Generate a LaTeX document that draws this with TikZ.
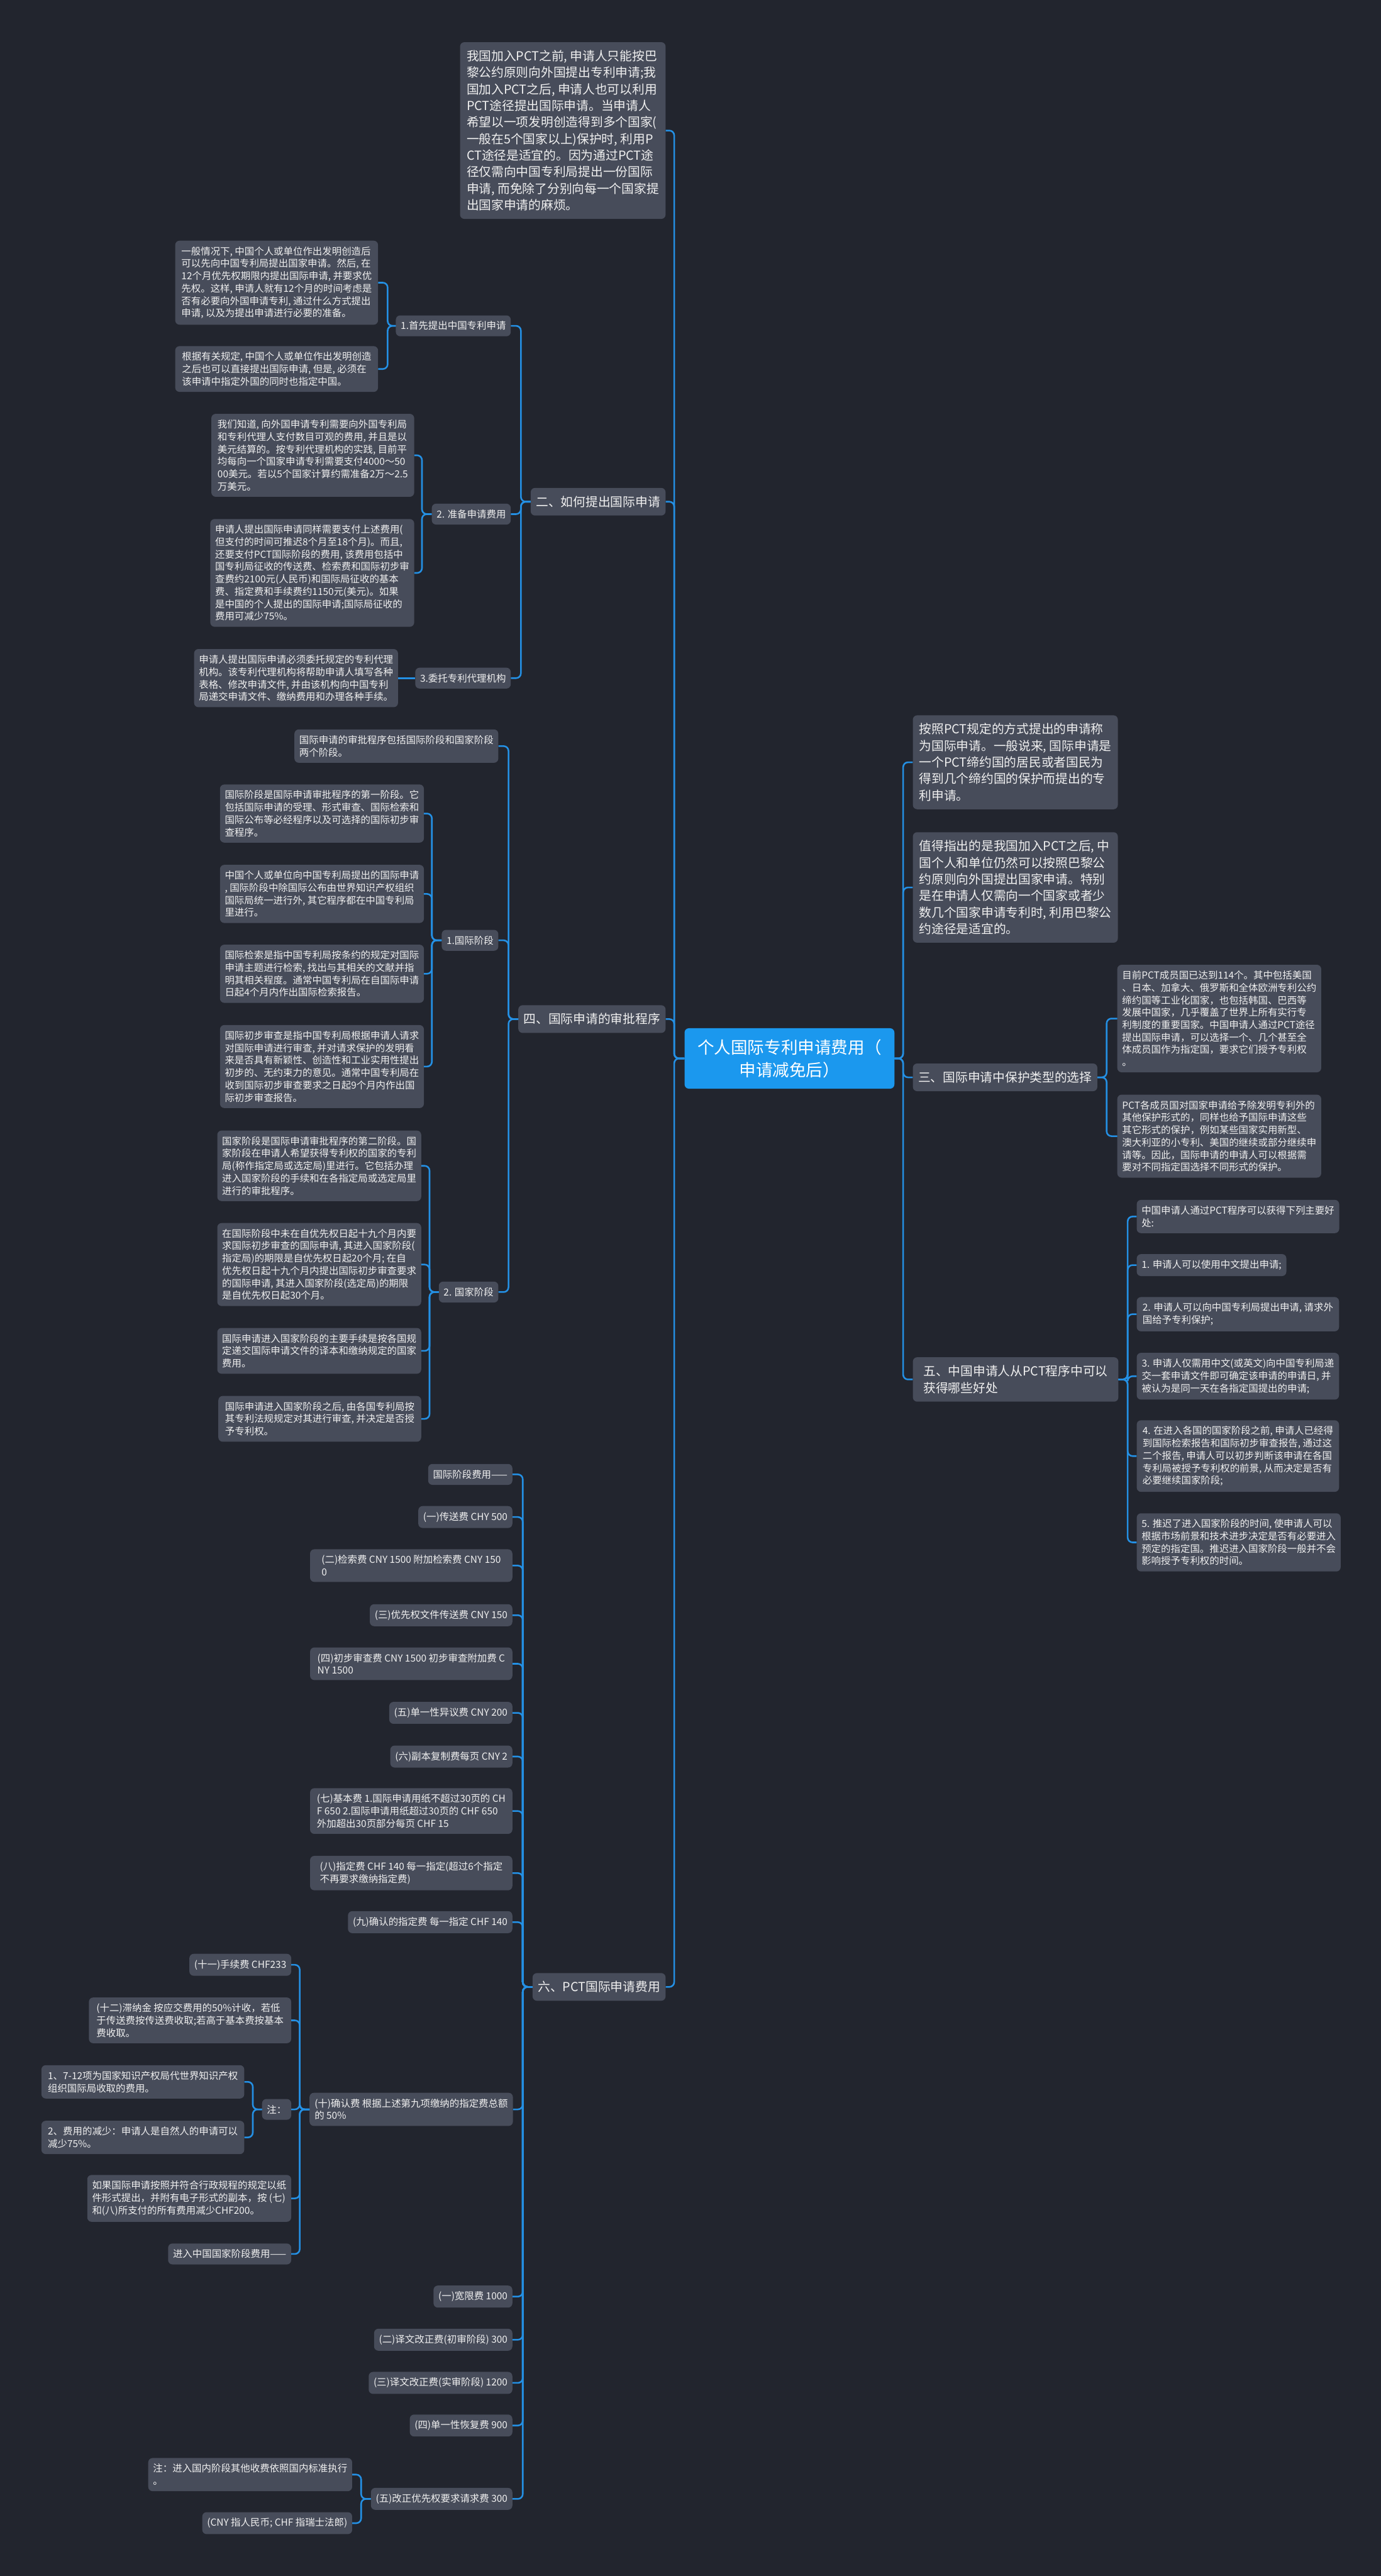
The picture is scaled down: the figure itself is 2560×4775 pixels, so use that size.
\documentclass[tikz,border=0pt]{standalone}
\usepackage{fontspec}
\setmainfont{Noto Sans CJK SC}
\definecolor{bgcol}{HTML}{22252E}
\definecolor{boxcol}{HTML}{474C5A}
\definecolor{rootcol}{HTML}{1B98EE}
\definecolor{linecol}{HTML}{2490E4}
\definecolor{txtcol}{HTML}{F0F0F0}
\newcommand*{\fsmall}{\fontsize{18}{23}\selectfont}
\newcommand*{\fbig  }{\fontsize{23}{30.7}\selectfont}
\newcommand*{\fsect }{\fontsize{23}{31}\selectfont}
\newcommand*{\froot }{\fontsize{31}{42}\selectfont}

\begin{document}
\begin{tikzpicture}[x=1pt, y=-1pt,
    box/.style={fill=boxcol, text=txtcol, rounded corners=8, inner xsep=9, inner ysep=11, align=left},
    leaf/.style={box, font=\fsmall},
    lead/.style={box, font=\fbig, inner xsep=10, inner ysep=15},
    sect/.style={box, font=\fsect, inner xsep=10, inner ysep=15},
    link/.style={draw=linecol, line width=3, rounded corners=9}]
    \fill [bgcol] (0,0) rectangle (2560,4775);
    % centre
    \node [box, fill=rootcol, text=white, font=\froot, align=center, minimum width=389, minimum height=112] (root) at (1463.5,1962) {个人国际专利申请费用（\\申请减免后）};
    % left half
    \node [lead, anchor=east, minimum width=381] (intro) at (1234,242) {我国加入PCT之前, 申请人只能按巴\\黎公约原则向外国提出专利申请;我\\国加入PCT之后, 申请人也可以利用\\PCT途径提出国际申请。当申请人\\希望以一项发明创造得到多个国家(\\一般在5个国家以上)保护时, 利用P\\CT途径是适宜的。因为通过PCT途\\径仅需向中国专利局提出一份国际\\申请, 而免除了分别向每一个国家提\\出国家申请的麻烦。};
    \node [sect, anchor=east] (how) at (1234,930) {二、如何提出国际申请};
    \node [leaf, anchor=east] (how1) at (947,604) {1.首先提出中国专利申请};
    \node [leaf, anchor=east, minimum width=376] (how1a) at (701,524) {一般情况下, 中国个人或单位作出发明创造后\\可以先向中国专利局提出国家申请。然后, 在\\12个月优先权期限内提出国际申请, 并要求优\\先权。这样, 申请人就有12个月的时间考虑是\\否有必要向外国申请专利, 通过什么方式提出\\申请, 以及为提出申请进行必要的准备。};
    \node [leaf, anchor=east, minimum width=376] (how1b) at (701,684) {根据有关规定, 中国个人或单位作出发明创造\\之后也可以直接提出国际申请, 但是, 必须在\\该申请中指定外国的同时也指定中国。};
    \node [leaf, anchor=east] (how2) at (947,953) {2. 准备申请费用};
    \node [leaf, anchor=east, minimum width=376] (how2a) at (768,844) {我们知道, 向外国申请专利需要向外国专利局\\和专利代理人支付数目可观的费用, 并且是以\\美元结算的。按专利代理机构的实践, 目前平\\均每向一个国家申请专利需要支付4000～50\\00美元。若以5个国家计算约需准备2万～2.5\\万美元。};
    \node [leaf, anchor=east, minimum width=376] (how2b) at (768,1062) {申请人提出国际申请同样需要支付上述费用(\\但支付的时间可推迟8个月至18个月)。而且,\\还要支付PCT国际阶段的费用, 该费用包括中\\国专利局征收的传送费、检索费和国际初步审\\查费约2100元(人民币)和国际局征收的基本\\费、指定费和手续费约1150元(美元)。如果\\是中国的个人提出的国际申请;国际局征收的\\费用可减少75\%。};
    \node [leaf, anchor=east] (how3) at (947,1257) {3.委托专利代理机构};
    \node [leaf, anchor=east, minimum width=377] (how3a) at (738,1257) {申请人提出国际申请必须委托规定的专利代理\\机构。该专利代理机构将帮助申请人填写各种\\表格、修改申请文件, 并由该机构向中国专利\\局递交申请文件、缴纳费用和办理各种手续。};
    \node [sect, anchor=east] (exam) at (1234,1889) {四、国际申请的审批程序};
    \node [leaf, anchor=east, minimum width=376] (exam0) at (924,1383) {国际申请的审批程序包括国际阶段和国家阶段\\两个阶段。};
    \node [leaf, anchor=east] (intl) at (924,1743) {1.国际阶段};
    \node [leaf, anchor=east, minimum width=376] (intl1) at (786,1508) {国际阶段是国际申请审批程序的第一阶段。它\\包括国际申请的受理、形式审查、国际检索和\\国际公布等必经程序以及可选择的国际初步审\\查程序。};
    \node [leaf, anchor=east, minimum width=376] (intl2) at (786,1657) {中国个人或单位向中国专利局提出的国际申请\\, 国际阶段中除国际公布由世界知识产权组织\\国际局统一进行外, 其它程序都在中国专利局\\里进行。};
    \node [leaf, anchor=east, minimum width=376] (intl3) at (786,1805) {国际检索是指中国专利局按条约的规定对国际\\申请主题进行检索, 找出与其相关的文献并指\\明其相关程度。通常中国专利局在自国际申请\\日起4个月内作出国际检索报告。};
    \node [leaf, anchor=east, minimum width=376] (intl4) at (786,1977) {国际初步审查是指中国专利局根据申请人请求\\对国际申请进行审查, 并对请求保护的发明看\\来是否具有新颖性、创造性和工业实用性提出\\初步的、无约束力的意见。通常中国专利局在\\收到国际初步审查要求之日起9个月内作出国\\际初步审查报告。};
    \node [leaf, anchor=east] (natl) at (924,2395) {2. 国家阶段};
    \node [leaf, anchor=east, minimum width=376] (natl1) at (781,2161) {国家阶段是国际申请审批程序的第二阶段。国\\家阶段在申请人希望获得专利权的国家的专利\\局(称作指定局或选定局)里进行。它包括办理\\进入国家阶段的手续和在各指定局或选定局里\\进行的审批程序。};
    \node [leaf, anchor=east, minimum width=376] (natl2) at (781,2344) {在国际阶段中未在自优先权日起十九个月内要\\求国际初步审查的国际申请, 其进入国家阶段(\\指定局)的期限是自优先权日起20个月; 在自\\优先权日起十九个月内提出国际初步审查要求\\的国际申请, 其进入国家阶段(选定局)的期限\\是自优先权日起30个月。};
    \node [leaf, anchor=east, minimum width=376] (natl3) at (781,2504) {国际申请进入国家阶段的主要手续是按各国规\\定递交国际申请文件的译本和缴纳规定的国家\\费用。};
    \node [leaf, anchor=east, minimum width=376] (natl4) at (781,2630) {国际申请进入国家阶段之后, 由各国专利局按\\其专利法规规定对其进行审查, 并决定是否授\\予专利权。};
    \node [sect, anchor=east] (fee) at (1234,3683) {六、PCT国际申请费用};
    \node [leaf, anchor=east] (fee0) at (950,2733) {国际阶段费用——};
    \node [leaf, anchor=east] (fee1) at (950,2812) {(一)传送费 CHY 500};
    \node [leaf, anchor=east, minimum width=375] (fee2) at (950,2902) {(二)检索费 CNY 1500 附加检索费 CNY 150\\0};
    \node [leaf, anchor=east] (fee3) at (950,2994) {(三)优先权文件传送费 CNY 150};
    \node [leaf, anchor=east, minimum width=375] (fee4) at (950,3084) {(四)初步审查费 CNY 1500 初步审查附加费 C\\NY 1500};
    \node [leaf, anchor=east] (fee5) at (950,3175) {(五)单一性异议费 CNY 200};
    \node [leaf, anchor=east] (fee6) at (950,3256) {(六)副本复制费每页 CNY 2};
    \node [leaf, anchor=east, minimum width=375] (fee7) at (950,3357) {(七)基本费 1.国际申请用纸不超过30页的 CH\\F 650 2.国际申请用纸超过30页的 CHF 650\\外加超出30页部分每页 CHF 15};
    \node [leaf, anchor=east, minimum width=375] (fee8) at (950,3472) {(八)指定费 CHF 140 每一指定(超过6个指定\\不再要求缴纳指定费)};
    \node [leaf, anchor=east] (fee9) at (950,3563) {(九)确认的指定费 每一指定 CHF 140};
    \node [leaf, anchor=east, minimum width=377] (fee10) at (951,3910) {(十)确认费 根据上述第九项缴纳的指定费总额\\的 50\%};
    \node [leaf, anchor=east] (fee11) at (540,3642) {(十一)手续费 CHF233};
    \node [leaf, anchor=east, minimum width=375] (fee12) at (540,3745) {(十二)滞纳金 按应交费用的50\%计收，若低\\于传送费按传送费收取;若高于基本费按基本\\费收取。};
    \node [leaf, anchor=east] (note) at (540,3910) {注：};
    \node [leaf, anchor=east, minimum width=376] (note1) at (453,3859) {1、7-12项为国家知识产权局代世界知识产权\\组织国际局收取的费用。};
    \node [leaf, anchor=east, minimum width=376] (note2) at (453,3962) {2、费用的减少：申请人是自然人的申请可以\\减少75\%。};
    \node [leaf, anchor=east, minimum width=375] (paper) at (540,4075) {如果国际申请按照并符合行政规程的规定以纸\\件形式提出，并附有电子形式的副本，按 (七)\\和(八)所支付的所有费用减少CHF200。};
    \node [leaf, anchor=east] (cnfee) at (540,4178) {进入中国国家阶段费用——};
    \node [leaf, anchor=east] (cn1) at (950,4257) {(一)宽限费 1000};
    \node [leaf, anchor=east] (cn2) at (950,4337) {(二)译文改正费(初审阶段) 300};
    \node [leaf, anchor=east] (cn3) at (950,4417) {(三)译文改正费(实审阶段) 1200};
    \node [leaf, anchor=east] (cn4) at (950,4496) {(四)单一性恢复费 900};
    \node [leaf, anchor=east] (cn5) at (950,4632) {(五)改正优先权要求请求费 300};
    \node [leaf, anchor=east, minimum width=376] (cn5a) at (653,4587) {注：进入国内阶段其他收费依照国内标准执行\\。};
    \node [leaf, anchor=east] (cn5b) at (653,4677) {(CNY 指人民币; CHF 指瑞士法郎)};
    % right half
    \node [lead, anchor=west, minimum width=380] (defn) at (1692,1413) {按照PCT规定的方式提出的申请称\\为国际申请。一般说来, 国际申请是\\一个PCT缔约国的居民或者国民为\\得到几个缔约国的保护而提出的专\\利申请。};
    \node [lead, anchor=west, minimum width=380] (paris) at (1692,1645) {值得指出的是我国加入PCT之后, 中\\国个人和单位仍然可以按照巴黎公\\约原则向外国提出国家申请。特别\\是在申请人仅需向一个国家或者少\\数几个国家申请专利时, 利用巴黎公\\约途径是适宜的。};
    \node [sect, anchor=west] (kind) at (1692,1997) {三、国际申请中保护类型的选择};
    \node [leaf, anchor=west, minimum width=375] (kind1) at (2071,1888) {目前PCT成员国已达到114个。其中包括美国\\、日本、加拿大、俄罗斯和全体欧洲专利公约\\缔约国等工业化国家，也包括韩国、巴西等\\发展中国家，几乎覆盖了世界上所有实行专\\利制度的重要国家。中国申请人通过PCT途径\\提出国际申请，可以选择一个、几个甚至全\\体成员国作为指定国，要求它们授予专利权\\。};
    \node [leaf, anchor=west, minimum width=375] (kind2) at (2071,2106) {PCT各成员国对国家申请给予除发明专利外的\\其他保护形式的，同样也给予国际申请这些\\其它形式的保护，例如某些国家实用新型、\\澳大利亚的小专利、美国的继续或部分继续申\\请等。因此，国际申请的申请人可以根据需\\要对不同指定国选择不同形式的保护。};
    \node [sect, anchor=west, minimum width=381] (gain) at (1692,2557) {五、中国申请人从PCT程序中可以\\获得哪些好处};
    \node [leaf, anchor=west, minimum width=375] (gain0) at (2107,2255) {中国申请人通过PCT程序可以获得下列主要好\\处:};
    \node [leaf, anchor=west] (gain1) at (2107,2345) {1. 申请人可以使用中文提出申请;};
    \node [leaf, anchor=west, minimum width=375] (gain2) at (2107,2436) {2. 申请人可以向中国专利局提出申请, 请求外\\国给予专利保护;};
    \node [leaf, anchor=west, minimum width=375] (gain3) at (2107,2551) {3. 申请人仅需用中文(或英文)向中国专利局递\\交一套申请文件即可确定该申请的申请日, 并\\被认为是同一天在各指定国提出的申请;};
    \node [leaf, anchor=west, minimum width=375] (gain4) at (2107,2699) {4. 在进入各国的国家阶段之前, 申请人已经得\\到国际检索报告和国际初步审查报告, 通过这\\二个报告, 申请人可以初步判断该申请在各国\\专利局被授予专利权的前景, 从而决定是否有\\必要继续国家阶段;};
    \node [leaf, anchor=west, minimum width=375] (gain5) at (2107,2859) {5. 推迟了进入国家阶段的时间, 使申请人可以\\根据市场前景和技术进步决定是否有必要进入\\预定的指定国。推迟进入国家阶段一般并不会\\影响授予专利权的时间。};
    % links
    \draw [link] (root.west) -- ++(-19,0) |- (intro.east);
    \draw [link] (root.west) -- ++(-19,0) |- (how.east);
    \draw [link] (root.west) -- ++(-19,0) |- (exam.east);
    \draw [link] (root.west) -- ++(-19,0) |- (fee.east);
    \draw [link] (root.east) -- ++(16,0) |- (defn.west);
    \draw [link] (root.east) -- ++(16,0) |- (paris.west);
    \draw [link] (root.east) -- ++(16,0) |- (kind.west);
    \draw [link] (root.east) -- ++(16,0) |- (gain.west);
    \draw [link] (how.west) -- ++(-18,0) |- (how1.east);
    \draw [link] (how.west) -- ++(-18,0) |- (how2.east);
    \draw [link] (how.west) -- ++(-18,0) |- (how3.east);
    \draw [link] (how1.west) -- ++(-15,0) |- (how1a.east);
    \draw [link] (how1.west) -- ++(-15,0) |- (how1b.east);
    \draw [link] (how2.west) -- ++(-18,0) |- (how2a.east);
    \draw [link] (how2.west) -- ++(-18,0) |- (how2b.east);
    \draw [link] (how3.west) -- (how3a.east);
    \draw [link] (exam.west) -- ++(-18,0) |- (exam0.east);
    \draw [link] (exam.west) -- ++(-18,0) |- (intl.east);
    \draw [link] (exam.west) -- ++(-18,0) |- (natl.east);
    \draw [link] (intl.west) -- ++(-18,0) |- (intl1.east);
    \draw [link] (intl.west) -- ++(-18,0) |- (intl2.east);
    \draw [link] (intl.west) -- ++(-18,0) |- (intl3.east);
    \draw [link] (intl.west) -- ++(-18,0) |- (intl4.east);
    \draw [link] (natl.west) -- ++(-17,0) |- (natl1.east);
    \draw [link] (natl.west) -- ++(-17,0) |- (natl2.east);
    \draw [link] (natl.west) -- ++(-17,0) |- (natl3.east);
    \draw [link] (natl.west) -- ++(-17,0) |- (natl4.east);
    \draw [link] (fee.west) -- ++(-18,0) |- (fee0.east);
    \draw [link] (fee.west) -- ++(-18,0) |- (fee1.east);
    \draw [link] (fee.west) -- ++(-18,0) |- (fee2.east);
    \draw [link] (fee.west) -- ++(-18,0) |- (fee3.east);
    \draw [link] (fee.west) -- ++(-18,0) |- (fee4.east);
    \draw [link] (fee.west) -- ++(-18,0) |- (fee5.east);
    \draw [link] (fee.west) -- ++(-18,0) |- (fee6.east);
    \draw [link] (fee.west) -- ++(-18,0) |- (fee7.east);
    \draw [link] (fee.west) -- ++(-18,0) |- (fee8.east);
    \draw [link] (fee.west) -- ++(-18,0) |- (fee9.east);
    \draw [link] (fee.west) -- ++(-18,0) |- (fee10.east);
    \draw [link] (fee.west) -- ++(-18,0) |- (cn1.east);
    \draw [link] (fee.west) -- ++(-18,0) |- (cn2.east);
    \draw [link] (fee.west) -- ++(-18,0) |- (cn3.east);
    \draw [link] (fee.west) -- ++(-18,0) |- (cn4.east);
    \draw [link] (fee.west) -- ++(-18,0) |- (cn5.east);
    \draw [link] (fee10.west) -- ++(-18,0) |- (fee11.east);
    \draw [link] (fee10.west) -- ++(-18,0) |- (fee12.east);
    \draw [link] (fee10.west) -- ++(-18,0) |- (note.east);
    \draw [link] (fee10.west) -- ++(-18,0) |- (paper.east);
    \draw [link] (fee10.west) -- ++(-18,0) |- (cnfee.east);
    \draw [link] (note.west) -- ++(-17,0) |- (note1.east);
    \draw [link] (note.west) -- ++(-17,0) |- (note2.east);
    \draw [link] (cn5.west) -- ++(-18,0) |- (cn5a.east);
    \draw [link] (cn5.west) -- ++(-18,0) |- (cn5b.east);
    \draw [link] (kind.east) -- ++(17,0) |- (kind1.west);
    \draw [link] (kind.east) -- ++(17,0) |- (kind2.west);
    \draw [link] (gain.east) -- ++(17,0) |- (gain0.west);
    \draw [link] (gain.east) -- ++(17,0) |- (gain1.west);
    \draw [link] (gain.east) -- ++(17,0) |- (gain2.west);
    \draw [link] (gain.east) -- ++(17,0) |- (gain3.west);
    \draw [link] (gain.east) -- ++(17,0) |- (gain4.west);
    \draw [link] (gain.east) -- ++(17,0) |- (gain5.west);
\end{tikzpicture}
\end{document}
